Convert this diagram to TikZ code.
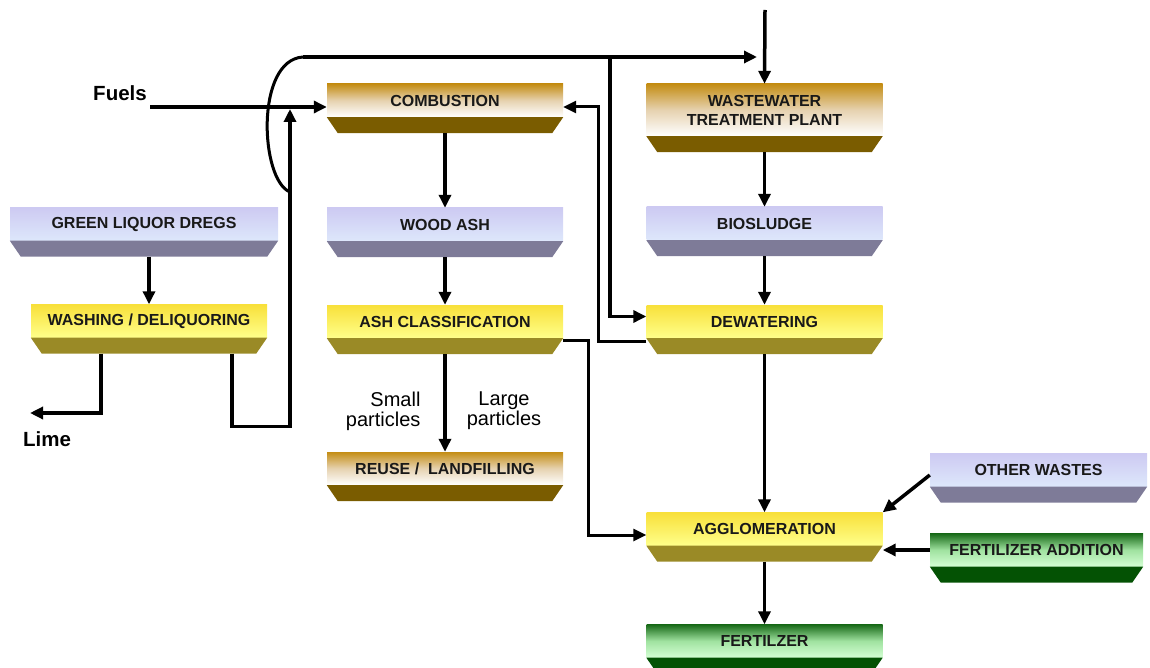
\documentclass[tikz,border=0pt]{standalone}
\usepackage{fontspec}
\setmainfont{Liberation Sans}
\usepackage{tikz}
\usepackage{xcolor}
\usetikzlibrary{arrows.meta, positioning}
\definecolor{Brown_Top}{HTML}{C48D14}
\definecolor{Brown_Mid}{HTML}{E6D2B0}
\definecolor{Brown_Base}{HTML}{7A5C00}
\definecolor{Lav_Top}{HTML}{CDCAF2}
\definecolor{Lav_Bot}{HTML}{DDE7FB}
\definecolor{Lav_Base}{HTML}{7E7B98}
\definecolor{Yel_Top}{HTML}{F8E03A}
\definecolor{Yel_Bot}{HTML}{FFFF8A}
\definecolor{Yel_Base}{HTML}{9A8A26}
\definecolor{Grn_Top}{HTML}{186A18}
\definecolor{Grn_Mid}{HTML}{A0E2A0}
\definecolor{Grn_Bot}{HTML}{D4FFD4}
\definecolor{Grn_Base}{HTML}{045204}

\begin{document}
\begin{tikzpicture}[x=1pt, y=-1pt,
    slab/.style={minimum width=236pt, minimum height=33pt, inner sep=0pt, align=center,
        font=\fontsize{16}{19}\selectfont\bfseries, text=black!90},
    brownbox/.style={slab, top color=Brown_Top, bottom color=white, middle color=Brown_Mid},
    lavbox/.style={slab, top color=Lav_Top, bottom color=Lav_Bot},
    yelbox/.style={slab, top color=Yel_Top, bottom color=Yel_Bot},
    grnbox/.style={slab, top color=Grn_Top, bottom color=Grn_Bot, middle color=Grn_Mid},
    arr/.style={line width=3.5pt, -{Triangle[length=13pt, width=12pt]}},
    lbl/.style={font=\fontsize{20.5}{22}\selectfont\bfseries},
    side/.style={font=\fontsize{20}{20}\selectfont}]
    \clip (0,0) rectangle (1150,668);
    % left column
    \node[lavbox, minimum width=268pt] (dregs) at (144,224) {GREEN LIQUOR DREGS};
    \node[yelbox] (washing) at (149,321) {WASHING / DELIQUORING};
    % middle column
    \node[brownbox] (combustion) at (445,100.5) {COMBUSTION};
    \node[lavbox] (woodash) at (445,224.5) {WOOD ASH};
    \node[yelbox] (ashclass) at (445,321.5) {ASH CLASSIFICATION};
    \node[brownbox] (reuse) at (445,468.5) {REUSE /\ \ LANDFILLING};
    % right column
    \node[brownbox, minimum height=52pt] (wwtp) at (764.5,110) {WASTEWATER\\TREATMENT PLANT};
    \node[lavbox] (biosludge) at (764.5,223.5) {BIOSLUDGE};
    \node[yelbox] (dewatering) at (764.5,321.5) {DEWATERING};
    \node[yelbox] (agglom) at (764.5,529) {AGGLOMERATION};
    \node[grnbox] (fertilizer) at (764.5,641) {FERTILZER};
    % extra inputs
    \node[lavbox, minimum width=217pt] (other) at (1038.5,470) {OTHER WASTES};
    \node[grnbox, minimum width=213pt] (fertadd) at (1036.5,550) {FERTILIZER ADDITION};
    % slab bases
    \foreach \n/\c in {dregs/Lav_Base, washing/Yel_Base, combustion/Brown_Base,
        woodash/Lav_Base, ashclass/Yel_Base, reuse/Brown_Base, wwtp/Brown_Base,
        biosludge/Lav_Base, dewatering/Yel_Base, agglom/Yel_Base,
        fertilizer/Grn_Base, other/Lav_Base, fertadd/Grn_Base} {
        \fill[\c] (\n.south west) -- (\n.south east) -- ([shift={(-11,16)}]\n.south east)
            -- ([shift={(11,16)}]\n.south west) -- cycle;
        \coordinate (\n-b) at ([shift={(0,16)}]\n.south);
    }
    % Labels
    \node[lbl] (fuels) at (120,93) {Fuels};
    \node[lbl] (lime) at (47,439) {Lime};
    \node[side, anchor=east, align=right] (smalllbl) at (424,411) {Small\\particles};
    \node[side, align=center] (largelbl) at (504,411) {Large\\particles};
    % free ends
    \coordinate (topin) at (765,10);
    \coordinate (fuelsin) at (150,107);
    \coordinate (limeout) at (30,413);
    \coordinate (joinup) at (290,109);
    \coordinate (loopfoot) at (290,192);
    \coordinate (looptop) at (303,57);
    \coordinate (split) at (610,57);
    \coordinate (wwin) at (757,57);
    \coordinate (retx) at (598,107);
    % main flow
    \draw[arr] (topin) -- (wwtp.north);
    \draw[arr] (wwtp-b) -- (biosludge.north);
    \draw[arr] (biosludge-b) -- (dewatering.north);
    \draw[arr] (dewatering-b) -- (agglom.north);
    \draw[arr] (agglom-b) -- (fertilizer.north);
    \draw[arr] (combustion-b) -- (woodash.north);
    \draw[arr] (woodash-b) -- (ashclass.north);
    \draw[arr] (ashclass-b) -- (reuse.north);
    \draw[arr] (washing.north |- dregs-b) -- (washing.north);
    % washing outlets
    \draw[arr] ([xshift=-48pt]washing-b) |- (limeout);
    \draw[line width=3.5pt] ([xshift=83pt]washing-b) -- ++(0,73) -| (loopfoot);
    \draw[arr] (loopfoot) -- (joinup);
    \draw[arr] (fuelsin) -- (fuelsin -| combustion.west);
    % recycle loop
    \draw[line width=3pt] (loopfoot) .. controls (260,180) and (255,60) .. (looptop);
    \draw[arr] (looptop) -- (wwin);
    \draw[arr] (split) |- ([yshift=5pt]dewatering.west);
    \draw[arr, line width=3pt] ([yshift=-3pt]dewatering.south west) -| (retx) -- (retx -| combustion.east);
    \draw[arr, line width=3pt] ([yshift=-2pt]ashclass.south east) -- ++(25,0) |- ([yshift=-6pt]agglom.west);
    % additions
    \draw[arr] ([yshift=-5pt]other.west) -- (agglom.north east);
    \draw[arr] (fertadd.west) -- (fertadd.west -| agglom.east);
\end{tikzpicture}
\end{document}
